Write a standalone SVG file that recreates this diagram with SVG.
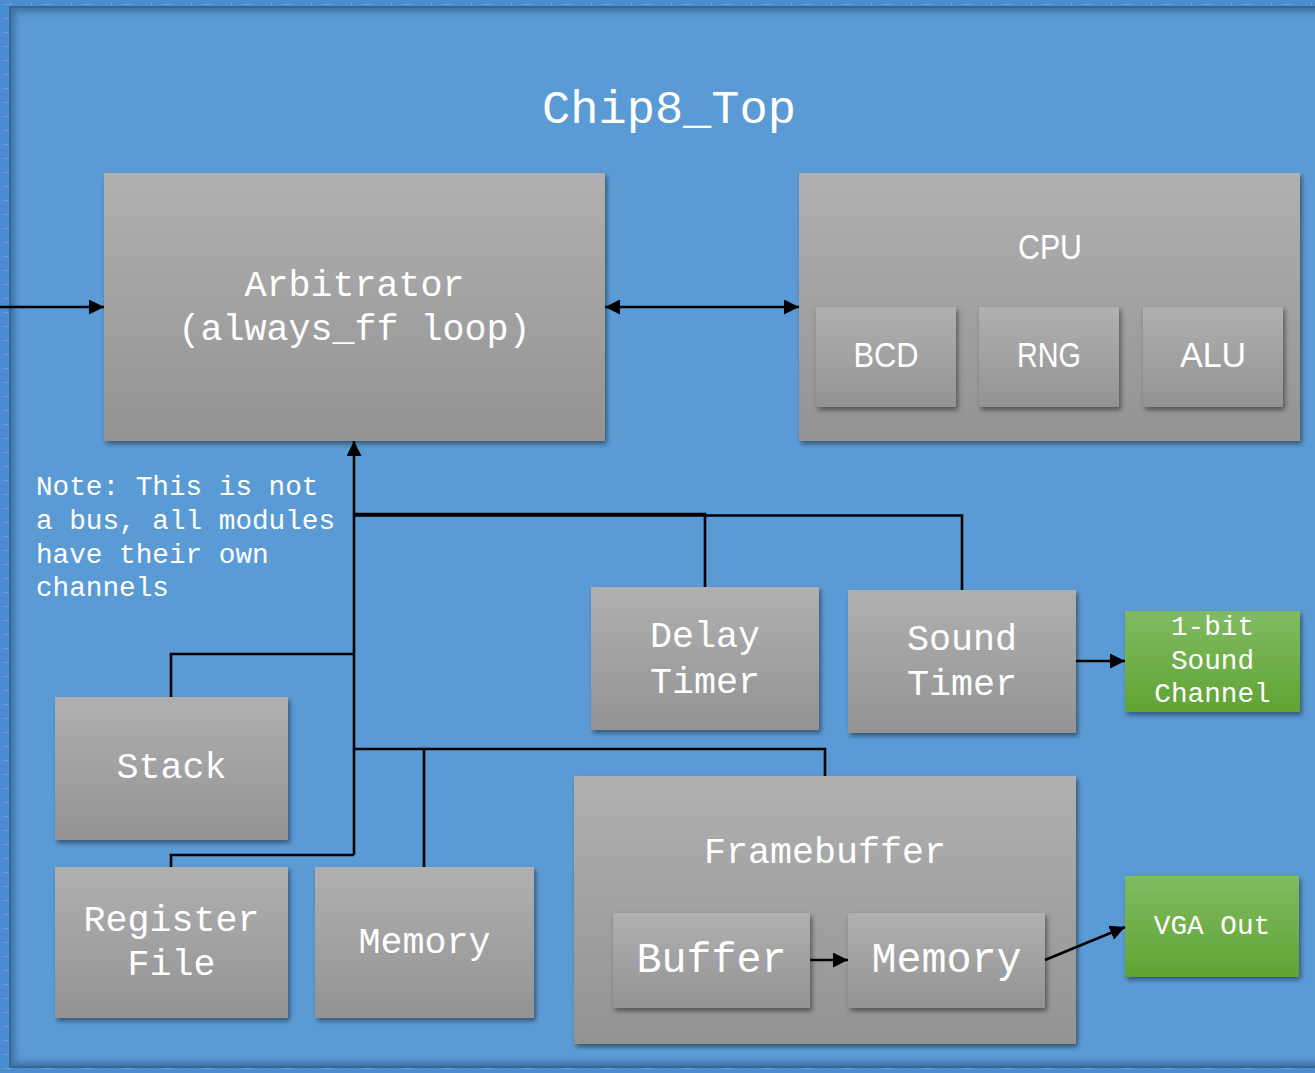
<svg xmlns="http://www.w3.org/2000/svg" width="1315" height="1073" viewBox="0 0 1315 1073">
  <defs>
    <linearGradient id="gray" x1="0" y1="0" x2="0" y2="1">
      <stop offset="0" stop-color="#b0b0b0"/>
      <stop offset="1" stop-color="#939393"/>
    </linearGradient>
    <linearGradient id="green" x1="0" y1="0" x2="0" y2="1">
      <stop offset="0" stop-color="#80bb61"/>
      <stop offset="1" stop-color="#60a434"/>
    </linearGradient>
    <filter id="shadow" x="-10%" y="-10%" width="125%" height="130%">
      <feDropShadow dx="2" dy="3" stdDeviation="2.5" flood-color="#000" flood-opacity="0.45"/>
    </filter>
    <filter id="soft" x="-5%" y="-5%" width="110%" height="110%">
      <feGaussianBlur stdDeviation="3"/>
    </filter>
    <clipPath id="frameClip">
      <rect x="9" y="6" width="1320" height="1062"/>
    </clipPath>
    <pattern id="speckle" width="40" height="14" patternUnits="userSpaceOnUse">
      <rect width="40" height="14" fill="#4a8dd1"/>
      <rect x="3" y="4" width="9" height="1" fill="#8fbce8" opacity="0.5"/>
      <rect x="21" y="9" width="6" height="1" fill="#8fbce8" opacity="0.45"/>
      <rect x="31" y="2" width="1" height="3" fill="#a9cdf0" opacity="0.4"/>
    </pattern>
    <marker id="arrow" viewBox="0 0 15 15" refX="15" refY="7.5" markerWidth="15" markerHeight="15" markerUnits="userSpaceOnUse" orient="auto-start-reverse">
      <path d="M0,0 L15,7.5 L0,15 z" fill="#000"/>
    </marker>
    <style>
      .box { fill: url(#gray); filter: url(#shadow); }
      .gbox { fill: url(#green); filter: url(#shadow); }
      .mono { font-family: "Liberation Mono", "DejaVu Sans Mono", monospace; fill: #ffffff; text-anchor: middle; }
      .sans { font-family: "Liberation Sans", Arial, sans-serif; fill: #ffffff; text-anchor: middle; }
      .t37 { font-size: 36.7px; }
      .t28 { font-size: 27.7px; }
      .wire { fill: none; stroke: #000; stroke-width: 2.6; }
    </style>
  </defs>

  <!-- page surround and framed canvas -->
  <rect x="0" y="0" width="1315" height="1073" fill="url(#speckle)"/>
  <rect x="9" y="6" width="1320" height="1062" fill="#5b9bd5"/>
  <g clip-path="url(#frameClip)">
    <rect x="9" y="6" width="1320" height="1062" fill="none" stroke="#2a5683" stroke-width="12" opacity="0.6" filter="url(#soft)"/>
    <rect x="9" y="6" width="1320" height="1062" fill="none" stroke="#3a668f" stroke-width="4"/>
  </g>

  <!-- title -->
  <text class="mono" x="669" y="123" font-size="47">Chip8_Top</text>

  <!-- note -->
  <g id="note" font-family="Liberation Mono, DejaVu Sans Mono, monospace" font-size="27.7" fill="#ffffff">
    <text x="36" y="495">Note: This is not</text>
    <text x="36" y="529">a bus, all modules</text>
    <text x="36" y="563">have their own</text>
    <text x="36" y="596">channels</text>
  </g>

  <g id="arbitrator">
    <rect class="box" x="104" y="173" width="501" height="268"/>
    <text class="mono t37" x="354.5" y="296">Arbitrator</text>
    <text class="mono t37" x="354.5" y="340">(always_ff loop)</text>
  </g>

  <g id="cpu">
    <rect class="box" x="799" y="173" width="501" height="268"/>
    <text class="sans" x="1050" y="259" font-size="35.5" textLength="64" lengthAdjust="spacingAndGlyphs">CPU</text>
    <g id="bcd">
      <rect class="box" x="816" y="307" width="140" height="100"/>
      <text class="sans" x="886" y="367" font-size="35.5" textLength="65" lengthAdjust="spacingAndGlyphs">BCD</text>
    </g>
    <g id="rng">
      <rect class="box" x="979" y="307" width="140" height="100"/>
      <text class="sans" x="1049" y="367" font-size="35.5" textLength="64" lengthAdjust="spacingAndGlyphs">RNG</text>
    </g>
    <g id="alu">
      <rect class="box" x="1143" y="307" width="140" height="100"/>
      <text class="sans" x="1213" y="367" font-size="35.5" textLength="66" lengthAdjust="spacingAndGlyphs">ALU</text>
    </g>
  </g>

  <g id="delay-timer">
    <rect class="box" x="591" y="587" width="228" height="143"/>
    <text class="mono t37" x="705" y="647">Delay</text>
    <text class="mono t37" x="705" y="693">Timer</text>
  </g>

  <g id="sound-timer">
    <rect class="box" x="848" y="590" width="228" height="143"/>
    <text class="mono t37" x="962" y="650">Sound</text>
    <text class="mono t37" x="962" y="695">Timer</text>
  </g>

  <g id="sound-channel">
    <rect class="gbox" x="1125" y="611" width="175" height="101"/>
    <text class="mono t28" x="1212.5" y="635">1-bit</text>
    <text class="mono t28" x="1212.5" y="669">Sound</text>
    <text class="mono t28" x="1212.5" y="702">Channel</text>
  </g>

  <g id="stack">
    <rect class="box" x="55" y="697" width="233" height="143"/>
    <text class="mono t37" x="171.5" y="778">Stack</text>
  </g>

  <g id="register-file">
    <rect class="box" x="55" y="867" width="233" height="151"/>
    <text class="mono t37" x="171.5" y="931">Register</text>
    <text class="mono t37" x="171.5" y="975">File</text>
  </g>

  <g id="memory">
    <rect class="box" x="315" y="867" width="219" height="151"/>
    <text class="mono t37" x="424.5" y="953">Memory</text>
  </g>

  <g id="framebuffer">
    <rect class="box" x="574" y="776" width="502" height="268"/>
    <text class="mono t37" x="825" y="863">Framebuffer</text>
    <g id="fb-buffer">
      <rect class="box" x="613" y="913" width="197" height="95"/>
      <text class="mono" x="711.5" y="972" font-size="41.7">Buffer</text>
    </g>
    <g id="fb-memory">
      <rect class="box" x="848" y="913" width="197" height="95"/>
      <text class="mono" x="946.5" y="972" font-size="41.7">Memory</text>
    </g>
  </g>

  <g id="vga-out">
    <rect class="gbox" x="1125" y="876" width="174" height="101"/>
    <text class="mono t28" x="1212" y="934">VGA Out</text>
  </g>

  <!-- connectors, drawn over the blocks they join -->
  <g id="connectors">
    <line class="wire" x1="0" y1="307" x2="104" y2="307" marker-end="url(#arrow)"/>
    <line class="wire" x1="605" y1="307" x2="799" y2="307" marker-start="url(#arrow)" marker-end="url(#arrow)"/>
    <line class="wire" x1="354" y1="855" x2="354" y2="441" marker-end="url(#arrow)"/>
    <path class="wire" d="M354,855 H171 V867"/>
    <path class="wire" d="M354,654 H171 V697"/>
    <path class="wire" d="M354,749 H825 V776"/>
    <path class="wire" d="M424,749 V867"/>
    <path class="wire" d="M354,514 H705 V587"/>
    <path class="wire" d="M354,515.5 H962 V590"/>
    <line class="wire" x1="1076" y1="661" x2="1125" y2="661" marker-end="url(#arrow)"/>
    <line class="wire" x1="810" y1="960" x2="848" y2="960" marker-end="url(#arrow)"/>
    <line class="wire" x1="1045" y1="960" x2="1125" y2="927" marker-end="url(#arrow)"/>
  </g>
</svg>
